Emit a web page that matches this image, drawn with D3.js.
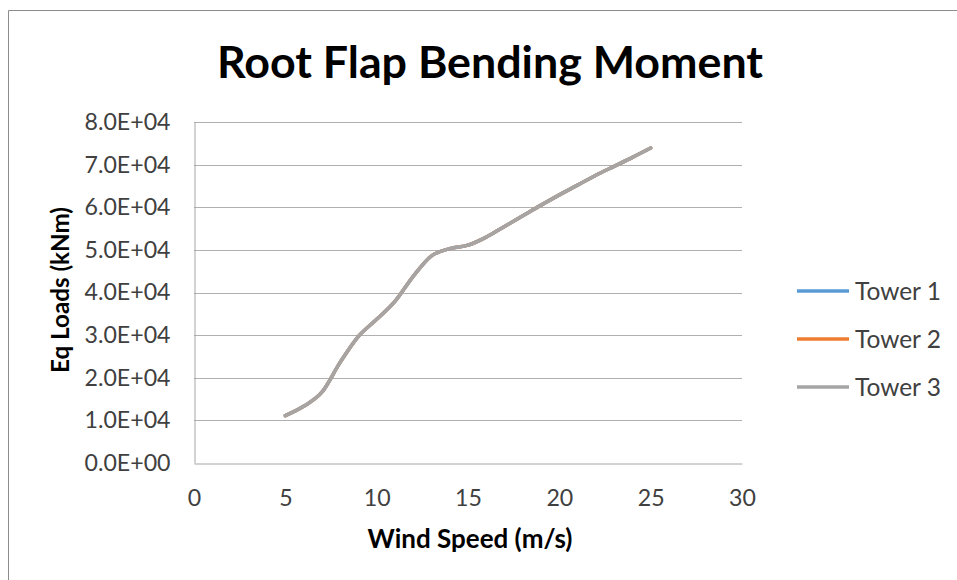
<!DOCTYPE html>
<html><head><meta charset="utf-8">
<script src="https://cdn.jsdelivr.net/npm/d3@7"></script>
<style>body{margin:0;background:#fff}svg{display:block}</style>
</head><body>
<svg id="c" width="957" height="580"></svg>
<script>
const windSpeed = [5,6,7,8,9,10,11,12,13,14,15,16,17,18,19,20,21,22,23,24,25];
const tower1 = [11100,13300,16600,23600,29700,33700,37900,43800,48600,50300,51100,53000,55500,58000,60500,62900,65200,67500,69600,71700,73900];
const tower2 = [11100,13300,16600,23600,29700,33700,37900,43800,48600,50300,51100,53000,55500,58000,60500,62900,65200,67500,69600,71700,73900];
const tower3 = [11100,13300,16600,23600,29700,33700,37900,43800,48600,50300,51100,53000,55500,58000,60500,62900,65200,67500,69600,71700,73900];
const seriesNames = ["Tower 1","Tower 2","Tower 3"];
const seriesColors = ["#5B9BD5","#ED7D31","#A5A5A5"];
const xTicks = [0,5,10,15,20,25,30];
const yTicks = [0,10000,20000,30000,40000,50000,60000,70000,80000];

const svg = d3.select("#c");
const font = "Lato, 'Open Sans', sans-serif";
const x = d3.scaleLinear().domain([0,30]).range([194,742]);
const y = d3.scaleLinear().domain([0,80000]).range([463,122]);

// measure helper: font size so that text has target width
function fitSize(str, weight, target){
  const t = svg.append("text").attr("font-family",font).attr("font-weight",weight).attr("font-size",100).text(str);
  const w = t.node().getComputedTextLength(); t.remove();
  return 100*target/w;
}
const tickSize = fitSize("8.0E+04","normal",86);
const legSize = fitSize("Tower 1","normal",86);
const xTitleSize = fitSize("Wind Speed (m/s)","bold",205);
const yTitleSize = fitSize("Eq Loads (kNm)","bold",166);
const titleSize = fitSize("Root Flap Bending Moment","bold",546);

// outer border
svg.append("path").attr("d","M8.5,580 V10.5 H957").attr("fill","none").attr("stroke","#8c8c8c").attr("stroke-width",1);

// gridlines
svg.append("g").selectAll("line").data(yTicks.slice(1)).join("line")
  .attr("x1",x(0)).attr("x2",x(30))
  .attr("y1",d=>Math.round(y(d))+0.5).attr("y2",d=>Math.round(y(d))+0.5)
  .attr("stroke","#b0b0b0").attr("stroke-width",1);

// axes
const yAxis = d3.axisLeft(y).tickValues(yTicks).tickSize(0).tickPadding(24)
  .tickFormat(d=>{const e=d.toExponential(1).toUpperCase().split("E");const p=+e[1];return e[0]+"E"+(p<0?"-":"+")+String(Math.abs(p)).padStart(2,"0");});
const gy = svg.append("g").attr("transform",`translate(${Math.round(x(0))+0.5},0)`).call(yAxis);
gy.select(".domain").attr("stroke","#a6a6a6");
gy.selectAll("text").attr("font-family",font).attr("font-size",tickSize).attr("fill","#404040");

const xAxis = d3.axisBottom(x).tickValues(xTicks).tickSize(0).tickPadding(26);
const gx = svg.append("g").attr("transform",`translate(0,${Math.round(y(0))+0.5})`).call(xAxis);
gx.select(".domain").attr("stroke","#a6a6a6");
gx.selectAll("text").attr("font-family",font).attr("font-size",tickSize).attr("fill","#404040");

// lines
const allSeries = [tower1,tower2,tower3];
const line = d3.line().x((d,i)=>x(windSpeed[i])).y(d=>y(d)).curve(d3.curveCatmullRom.alpha(0));
allSeries.forEach((s,k)=>{
  svg.append("path").datum(s).attr("d",line).attr("fill","none")
    .attr("stroke",seriesColors[k]).attr("stroke-width",3.5).attr("stroke-linecap","round");
});

// title
svg.append("text").attr("x",490).attr("y",78).attr("text-anchor","middle")
  .attr("font-family",font).attr("font-weight","bold").attr("font-size",Math.min(titleSize,44)).attr("fill","#000")
  .attr("textLength",546).attr("lengthAdjust","spacingAndGlyphs")
  .text("Root Flap Bending Moment");

// axis titles
svg.append("text").attr("x",470).attr("y",548).attr("text-anchor","middle")
  .attr("font-family",font).attr("font-weight","bold").attr("font-size",xTitleSize).attr("fill","#000")
  .text("Wind Speed (m/s)");
svg.append("text").attr("transform","translate(69,290) rotate(-90)").attr("text-anchor","middle")
  .attr("font-family",font).attr("font-weight","bold").attr("font-size",yTitleSize).attr("fill","#000")
  .text("Eq Loads (kNm)");

// legend
const legY = [291,339,387];
const lg = svg.append("g").selectAll("g").data(seriesNames).join("g")
  .attr("transform",(d,i)=>`translate(0,${legY[i]})`);
lg.append("line").attr("x1",797).attr("x2",849).attr("y1",0).attr("y2",0)
  .attr("stroke",(d,i)=>seriesColors[i]).attr("stroke-width",3.5);
lg.append("text").attr("x",855).attr("y",0).attr("dy","0.35em")
  .attr("font-family",font).attr("font-size",legSize).attr("fill","#404040").text(d=>d);
</script>
</body></html>
